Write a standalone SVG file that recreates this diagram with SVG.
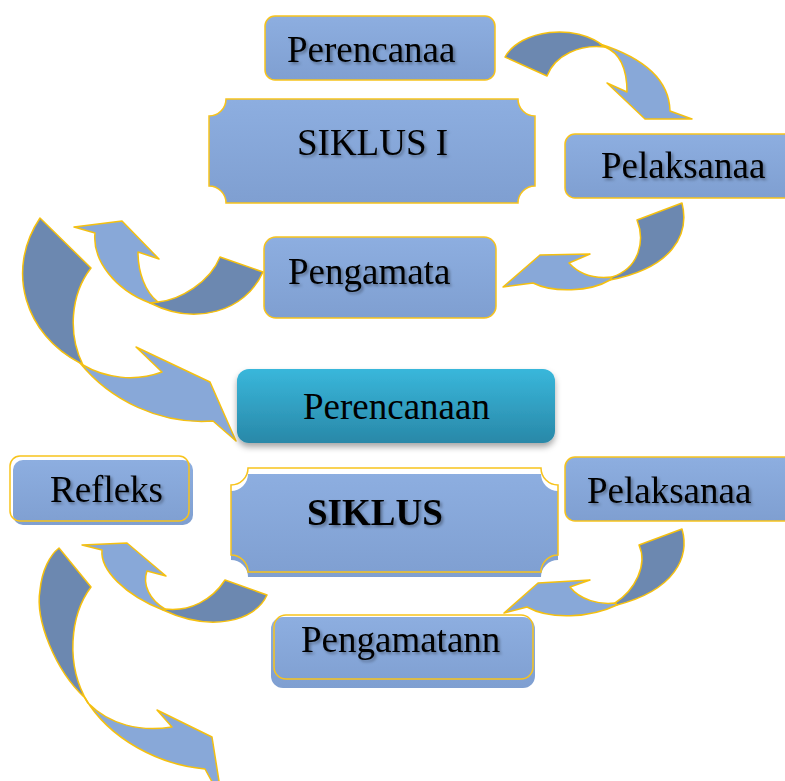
<svg xmlns="http://www.w3.org/2000/svg" width="785" height="781" viewBox="0 0 785 781">
<defs>
<linearGradient id="gBlue" x1="0" y1="0" x2="0" y2="1">
<stop offset="0" stop-color="#8daee0"/>
<stop offset="1" stop-color="#7f9fd1"/>
</linearGradient>
<linearGradient id="gTeal" x1="0" y1="0" x2="0" y2="1">
<stop offset="0" stop-color="#39b7db"/>
<stop offset="1" stop-color="#2988a8"/>
</linearGradient>
<filter id="txtShadow" x="-10%" y="-20%" width="130%" height="150%">
<feDropShadow dx="2" dy="2" stdDeviation="1.5" flood-color="#000" flood-opacity="0.35"/>
</filter>
<filter id="boxShadow" x="-10%" y="-20%" width="120%" height="160%">
<feDropShadow dx="0" dy="4" stdDeviation="3" flood-color="#000" flood-opacity="0.35"/>
</filter>
</defs>
<style>
.box{fill:url(#gBlue);stroke:#f7c31c;stroke-width:1.5}
.fillonly{fill:url(#gBlue);stroke:none}
.outline{fill:none;stroke:#f7c31c;stroke-width:1.5}
.lbl{font-family:"Liberation Serif","Times New Roman",serif;font-size:37px;fill:#000;filter:url(#txtShadow)}
.bold{font-weight:bold}
.dark{fill:#6c88b0;stroke:#f5c010;stroke-width:1.5;stroke-linejoin:round}
.light{fill:#88a8d8;stroke:#f5c010;stroke-width:1.5;stroke-linejoin:round}
</style>
<rect width="785" height="781" fill="#fff"/>

<g id="connectors">
<!-- Perencanaa -> Pelaksanaa -->
<path class="dark" d="M505,57 C520,30 575,22 605,47 C580,44 555,55 547,76 Z"/>
<path class="light" d="M600,44 Q669,66 670,111 L692,119 L645,119 L607,83 L627,92 Q627,56 605,47 Z"/>
<!-- Pelaksanaa -> Pengamata -->
<path class="dark" d="M637,220 L682,203 C690,235 672,268 610,280 L612,277 C640,268 645,240 637,220 Z"/>
<path class="light" d="M610,280 C590,292 553,293 533,283 L503,287 L540,255 L590,254 L569,263 C580,275 595,279 612,277 Z"/>
<!-- Pengamata -> up-left -->
<path class="dark" d="M220,257 L263,272 C245,312 195,326 150,303 L158,302 C180,300 210,282 220,257 Z"/>
<path class="light" d="M150,303 C115,290 92,260 95,233 L74,227 L122,221 L159,259 L138,252 C138,272 145,292 158,302 Z"/>
<!-- big left arrow -> Perencanaan -->
<path class="dark" d="M40,218 L91,268 C70,295 68,335 83,365 L80,363 C25,335 5,270 40,218 Z"/>
<path class="light" d="M80,363 C110,400 160,425 213,421 L236,441 L210,382 L136,347 L162,372 C135,382 105,378 83,365 Z"/>
<!-- Pelaksanaa -> Pengamatann -->
<path class="dark" d="M639,545 L682,529 C690,557 675,590 617,605 L615,603 C635,590 648,565 639,545 Z"/>
<path class="light" d="M617,605 C590,618 550,620 527,607 L504,613 L538,583 L590,580 L570,587 C580,600 600,605 615,603 Z"/>
<!-- Pengamatann -> Refleks -->
<path class="dark" d="M225,580 L267,595 C255,622 210,632 163,610 L165,609 C190,612 212,600 225,580 Z"/>
<path class="light" d="M163,610 C125,595 100,570 102,550 L82,545 L127,543 L166,576 L147,571 C142,585 150,600 165,609 Z"/>
<!-- Refleks -> down (bottom) -->
<path class="dark" d="M59,548 L91,587 C70,615 65,665 88,703 L85,698 C55,670 35,620 40,590 C42,570 50,555 59,548 Z"/>
<path class="light" d="M85,698 C110,740 160,765 205,769 L222,800 L212,737 L157,710 L172,727 C140,732 110,725 88,703 Z"/>
</g>

<g id="node-perencanaa1">
<rect class="box" x="265" y="16" width="230" height="64" rx="10"/>
<text class="lbl" x="287" y="62">Perencanaa</text>
</g>

<g id="node-siklus1">
<path class="box" d="M226,99 H518 A17,17 0 0 0 535,116 V186 A17,17 0 0 0 518,203 H226 A17,17 0 0 0 209,186 V116 A17,17 0 0 0 226,99 Z"/>
<text class="lbl" x="297" y="155">SIKLUS I</text>
</g>

<g id="node-pelaksanaa1">
<rect class="box" x="565" y="134" width="240" height="64" rx="10"/>
<text class="lbl" x="601" y="178">Pelaksanaa</text>
</g>

<g id="node-pengamata1">
<rect class="box" x="264" y="237" width="232" height="81" rx="12"/>
<text class="lbl" x="288" y="284">Pengamata</text>
</g>

<g id="node-perencanaan2">
<rect x="237" y="369" width="318" height="74" rx="12" fill="url(#gTeal)" filter="url(#boxShadow)"/>
<text x="303" y="419" font-family="Liberation Serif, Times New Roman, serif" font-size="37" fill="#000">Perencanaan</text>
</g>

<g id="node-siklus2">
<path class="fillonly" d="M248,474 H541 A17,17 0 0 0 558,491 V560 A17,17 0 0 0 541,577 H248 A17,17 0 0 0 231,560 V491 A17,17 0 0 0 248,474 Z"/>
<path class="outline" d="M248,468 H541 A17,17 0 0 0 558,485 V555 A17,17 0 0 0 541,572 H248 A17,17 0 0 0 231,555 V485 A17,17 0 0 0 248,468 Z"/>
<text class="lbl bold" x="307" y="525">SIKLUS</text>
</g>

<g id="node-refleks">
<rect class="fillonly" x="13" y="460" width="180" height="65" rx="10"/>
<rect class="outline" x="10" y="456" width="179" height="65" rx="10"/>
<text class="lbl" x="50" y="502">Refleks</text>
</g>

<g id="node-pelaksanaa2">
<rect class="box" x="565" y="457" width="240" height="64" rx="10"/>
<text class="lbl" x="587" y="503">Pelaksanaa</text>
</g>

<g id="node-pengamatann">
<rect class="fillonly" x="271" y="617" width="264" height="71" rx="12"/>
<rect class="outline" x="274" y="615" width="259" height="64" rx="12"/>
<text class="lbl" x="301" y="652">Pengamatann</text>
</g>
</svg>
